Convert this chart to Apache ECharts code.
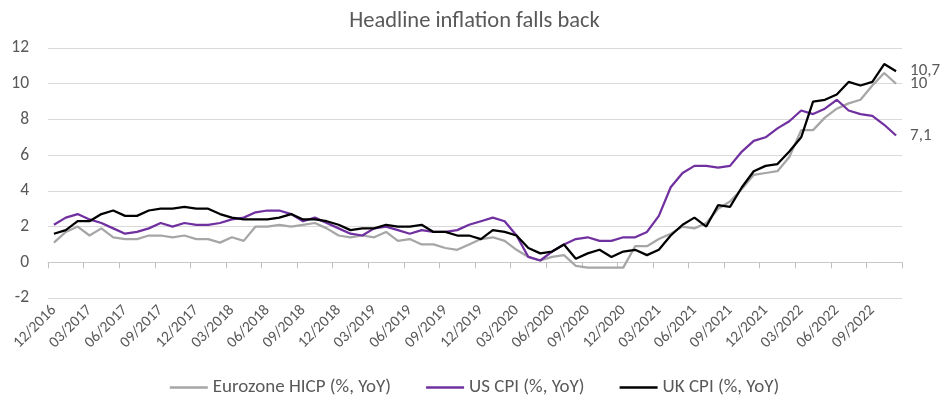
<!DOCTYPE html>
<html>
<head>
<meta charset="utf-8">
<script src="https://cdn.jsdelivr.net/npm/echarts@6/dist/echarts.min.js"></script>
<style>html,body{margin:0;padding:0;background:#fff}#c{width:949px;height:405px}</style>
</head>
<body>
<div id="c"></div>
<script>
// Months 12/2016 .. 11/2022
const categories = (function(){const a=[];let y=2016,m=12;for(let i=0;i<72;i++){a.push((m<10?'0':'')+m+'/'+y);m++;if(m>12){m=1;y++;}}return a;})();

const eurozone = [1.1,
 1.7,2.0,1.5,1.9,1.4,1.3,1.3,1.5,1.5,1.4,1.5,1.3,
 1.3,1.1,1.4,1.2,2.0,2.0,2.1,2.0,2.1,2.2,1.9,1.5,
 1.4,1.5,1.4,1.7,1.2,1.3,1.0,1.0,0.8,0.7,1.0,1.3,
 1.4,1.2,0.7,0.3,0.1,0.3,0.4,-0.2,-0.3,-0.3,-0.3,-0.3,
 0.9,0.9,1.3,1.6,2.0,1.9,2.2,3.0,3.4,4.1,4.9,5.0,
 5.1,5.9,7.4,7.4,8.1,8.6,8.9,9.1,9.9,10.6,10.0];

const usCpi = [2.1,
 2.5,2.7,2.4,2.2,1.9,1.6,1.7,1.9,2.2,2.0,2.2,2.1,
 2.1,2.2,2.4,2.5,2.8,2.9,2.9,2.7,2.3,2.5,2.2,1.9,
 1.6,1.5,1.9,2.0,1.8,1.6,1.8,1.7,1.7,1.8,2.1,2.3,
 2.5,2.3,1.5,0.3,0.1,0.6,1.0,1.3,1.4,1.2,1.2,1.4,
 1.4,1.7,2.6,4.2,5.0,5.4,5.4,5.3,5.4,6.2,6.8,7.0,
 7.5,7.9,8.5,8.3,8.6,9.1,8.5,8.3,8.2,7.7,7.1];

const ukCpi = [1.6,
 1.8,2.3,2.3,2.7,2.9,2.6,2.6,2.9,3.0,3.0,3.1,3.0,
 3.0,2.7,2.5,2.4,2.4,2.4,2.5,2.7,2.4,2.4,2.3,2.1,
 1.8,1.9,1.9,2.1,2.0,2.0,2.1,1.7,1.7,1.5,1.5,1.3,
 1.8,1.7,1.5,0.8,0.5,0.6,1.0,0.2,0.5,0.7,0.3,0.6,
 0.7,0.4,0.7,1.5,2.1,2.5,2.0,3.2,3.1,4.2,5.1,5.4,
 5.5,6.2,7.0,9.0,9.1,9.4,10.1,9.9,10.1,11.1,10.7];

const seriesNames = ['Eurozone HICP (%, YoY)','US CPI (%, YoY)','UK CPI (%, YoY)'];
const yTicks = {min:-2,max:12,interval:2};

const FONT = 'Carlito, Lato, sans-serif';
const TXT = '#595959';
const chart = echarts.init(document.getElementById('c'));
function mk(name, data, color){
  return {
    name, type:'line', data, xAxisIndex:0, showSymbol:false, symbol:'none',
    lineStyle:{color, width:2.25}, itemStyle:{color},
    emphasis:{disabled:true}, animation:false,
    endLabel:{show:true, distance:14, color:TXT, fontSize:17, fontFamily:FONT,
      formatter:p=>String(p.value).replace('.',',')}
  };
}
chart.setOption({
  animation:false,
  title:{text:'Headline inflation falls back', left:'center', top:5,
    textStyle:{fontFamily:FONT, fontSize:22.5, fontWeight:'normal', color:TXT}},
  grid:{left:48, right:47, top:48, bottom:107},
  legend:{bottom:3, left:'center', icon:'rect', itemWidth:38, itemHeight:2.5, itemGap:35,
    textStyle:{fontFamily:FONT, fontSize:19, color:TXT},
    data:seriesNames},
  xAxis:[
    {type:'category', data:categories, boundaryGap:true, position:'bottom',
     axisLine:{show:false, onZero:false}, axisTick:{show:false}, splitLine:{show:false},
     axisLabel:{interval:2, rotate:45, margin:10, fontSize:15.5, color:TXT, fontFamily:FONT}},
    {type:'category', data:categories, boundaryGap:true, position:'top',
     axisLine:{show:true, onZero:true, lineStyle:{color:'#c8c8c8', width:1}},
     axisTick:{show:true, inside:true, interval:2, length:6, lineStyle:{color:'#bfbfbf', width:1}},
     axisLabel:{show:false}, splitLine:{show:false}}
  ],
  yAxis:{type:'value', min:yTicks.min, max:yTicks.max, interval:yTicks.interval,
    axisLine:{show:false}, axisTick:{show:false},
    splitLine:{lineStyle:{color:'#d9d9d9', width:1}},
    axisLabel:{fontSize:17.5, color:TXT, fontFamily:FONT, margin:19}},
  series:[
    mk(seriesNames[0], eurozone, '#a6a6a6'),
    mk(seriesNames[1], usCpi, '#7030a0'),
    mk(seriesNames[2], ukCpi, '#000000')
  ]
});
</script>
</body>
</html>
